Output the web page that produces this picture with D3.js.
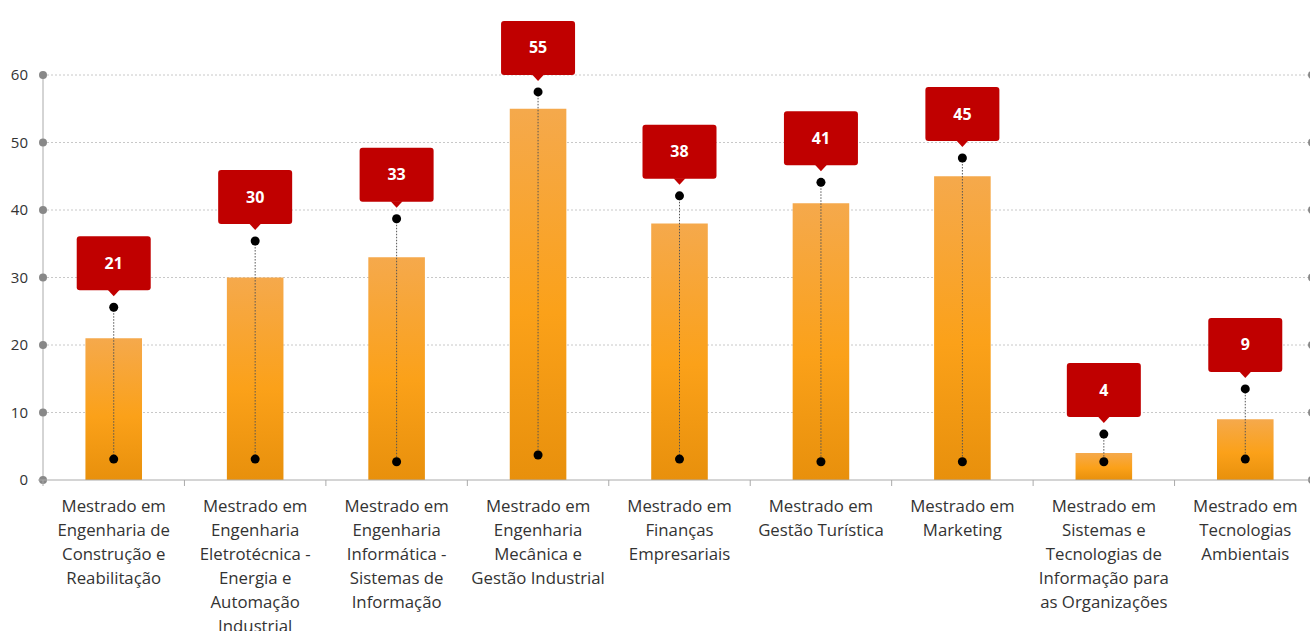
<!DOCTYPE html>
<html>
<head>
<meta charset="utf-8">
<script src="https://cdn.jsdelivr.net/npm/d3@7"></script>
<style>
  body { margin: 0; background: #fff; }
  text { font-family: "Open Sans", "Noto Sans", sans-serif; }
</style>
</head>
<body>
<div class="chart"></div>
<script>
var svgWidth = 1310;
var svgHeight = 631;

// data
var categories = [
  ["Mestrado em", "Engenharia de", "Construção e", "Reabilitação"],
  ["Mestrado em", "Engenharia", "Eletrotécnica -", "Energia e", "Automação", "Industrial"],
  ["Mestrado em", "Engenharia", "Informática -", "Sistemas de", "Informação"],
  ["Mestrado em", "Engenharia", "Mecânica e", "Gestão Industrial"],
  ["Mestrado em", "Finanças", "Empresariais"],
  ["Mestrado em", "Gestão Turística"],
  ["Mestrado em", "Marketing"],
  ["Mestrado em", "Sistemas e", "Tecnologias de", "Informação para", "as Organizações"],
  ["Mestrado em", "Tecnologias", "Ambientais"]
];
var values = [21, 30, 33, 55, 38, 41, 45, 4, 9];
var highValues = [25.6, 35.4, 38.7, 57.5, 42.1, 44.1, 47.7, 6.8, 13.5];
var lowValues = [3.1, 3.1, 2.7, 3.7, 3.1, 2.7, 2.7, 2.7, 3.1];
var yTicks = [0, 10, 20, 30, 40, 50, 60];

var margin = { top: 75, right: 0, bottom: 151, left: 43 };
var width = 1316 - margin.left;
var height = svgHeight - margin.top - margin.bottom;

var svg = d3.select(".chart")
  .append("svg")
  .attr("width", svgWidth)
  .attr("height", svgHeight);

var defs = svg.append("defs");
var grad = defs.append("linearGradient")
  .attr("id", "barGrad")
  .attr("x1", 0).attr("y1", 0).attr("x2", 0).attr("y2", 1);
grad.append("stop").attr("offset", "0%").attr("stop-color", "#f5a94c");
grad.append("stop").attr("offset", "55%").attr("stop-color", "#fba119");
grad.append("stop").attr("offset", "100%").attr("stop-color", "#e8900c");

var chartGroup = svg.append("g")
  .attr("transform", `translate(${margin.left}, ${margin.top})`);

var idx = d3.range(categories.length);

var xScale = d3.scaleBand()
  .domain(idx)
  .range([0, width])
  .paddingInner(0.6)
  .paddingOuter(0.3);

var yScale = d3.scaleLinear()
  .domain([0, 60])
  .range([height, 0]);

// grid lines
chartGroup.append("g")
  .selectAll("line")
  .data(yTicks.filter(d => d > 0))
  .enter()
  .append("line")
  .attr("x1", 0)
  .attr("x2", width)
  .attr("y1", d => yScale(d))
  .attr("y2", d => yScale(d))
  .attr("stroke", "#c8c8c8")
  .attr("stroke-dasharray", "2,2");

// left axis
var yAxis = chartGroup.append("g");
yAxis.append("line")
  .attr("x1", 0).attr("x2", 0)
  .attr("y1", 0).attr("y2", height)
  .attr("stroke", "#aaa");
yAxis.selectAll("circle")
  .data(yTicks)
  .enter()
  .append("circle")
  .attr("cx", 0)
  .attr("cy", d => yScale(d))
  .attr("r", 4)
  .attr("fill", "#888");
yAxis.selectAll("text")
  .data(yTicks)
  .enter()
  .append("text")
  .attr("x", -15)
  .attr("y", d => yScale(d))
  .attr("dy", "0.35em")
  .attr("text-anchor", "end")
  .attr("font-size", "15px")
  .attr("fill", "#333")
  .text(d => d);

// right axis (cut off at the edge)
chartGroup.append("g")
  .selectAll("circle")
  .data(yTicks)
  .enter()
  .append("circle")
  .attr("cx", width - 4)
  .attr("cy", d => yScale(d))
  .attr("r", 4)
  .attr("fill", "#888");

// bars
chartGroup.selectAll(".bar")
  .data(idx)
  .enter()
  .append("rect")
  .attr("class", "bar")
  .attr("x", i => xScale(i))
  .attr("y", i => yScale(values[i]))
  .attr("width", xScale.bandwidth())
  .attr("height", i => height - yScale(values[i]))
  .attr("fill", "url(#barGrad)");

// bottom axis
var step = xScale.step();
var xAxis = chartGroup.append("g").attr("transform", `translate(0, ${height})`);
xAxis.append("line")
  .attr("x1", -5).attr("x2", width)
  .attr("y1", 0).attr("y2", 0)
  .attr("stroke", "#aaa");
xAxis.selectAll(".tick")
  .data(d3.range(categories.length + 1))
  .enter()
  .append("line")
  .attr("x1", i => i * step)
  .attr("x2", i => i * step)
  .attr("y1", 0).attr("y2", 6)
  .attr("stroke", "#aaa");

var labels = xAxis.selectAll(".lbl")
  .data(idx)
  .enter()
  .append("text")
  .attr("class", "lbl")
  .attr("text-anchor", "middle")
  .attr("font-size", "16.8px")
  .attr("fill", "#333")
  .attr("transform", i => `translate(${xScale(i) + xScale.bandwidth() / 2}, 32)`);
labels.selectAll("tspan")
  .data(i => categories[i])
  .enter()
  .append("tspan")
  .attr("x", 0)
  .attr("y", (d, j) => j * 24)
  .text(d => d);

// range lines and dots
var cx = i => xScale(i) + xScale.bandwidth() / 2;
chartGroup.selectAll(".range")
  .data(idx)
  .enter()
  .append("line")
  .attr("x1", cx).attr("x2", cx)
  .attr("y1", i => yScale(highValues[i]))
  .attr("y2", i => yScale(lowValues[i]))
  .attr("stroke", "#555")
  .attr("stroke-width", 1)
  .attr("stroke-dasharray", "1.5,1.5");

chartGroup.selectAll(".hi")
  .data(idx)
  .enter()
  .append("circle")
  .attr("cx", cx)
  .attr("cy", i => yScale(highValues[i]))
  .attr("r", 4.5)
  .attr("fill", "#000");

chartGroup.selectAll(".lo")
  .data(idx)
  .enter()
  .append("circle")
  .attr("cx", cx)
  .attr("cy", i => yScale(lowValues[i]))
  .attr("r", 4.5)
  .attr("fill", "#000");

// callouts
var bw = 74, bh = 54;
var callouts = chartGroup.selectAll(".callout")
  .data(idx)
  .enter()
  .append("g")
  .attr("transform", i => `translate(${cx(i)}, ${yScale(highValues[i]) - 17})`);

callouts.append("rect")
  .attr("x", -bw / 2)
  .attr("y", -bh)
  .attr("width", bw)
  .attr("height", bh)
  .attr("rx", 3)
  .attr("fill", "#c00000");
callouts.append("path")
  .attr("d", "M-6,-0.5 L0,6 L6,-0.5 Z")
  .attr("fill", "#c00000");
callouts.append("text")
  .attr("x", 0)
  .attr("y", -bh / 2)
  .attr("dy", "0.35em")
  .attr("text-anchor", "middle")
  .attr("font-size", "16px")
  .attr("font-weight", "bold")
  .attr("fill", "#fff")
  .text(i => values[i]);
</script>
</body>
</html>
